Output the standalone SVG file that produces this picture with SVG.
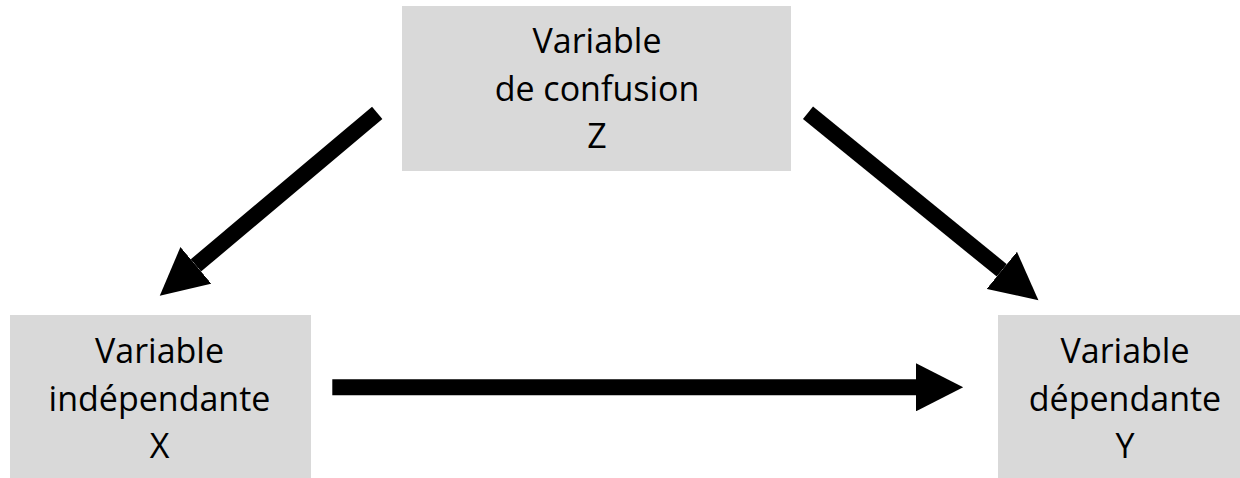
<svg xmlns="http://www.w3.org/2000/svg" width="1240" height="478" viewBox="0 0 1240 478">
  <style>
    .box { fill: #D9D9D9; stroke: none; }
    .label { font-family: "Open Sans", "Liberation Sans", sans-serif; font-size: 34px; fill: #000000; text-anchor: middle; }
    .conn { stroke: #000000; stroke-width: 16; stroke-linecap: butt; fill: none; marker-end: url(#head); }
  </style>
  <defs>
    <marker id="head" viewBox="0 0 3 3" refX="0" refY="1.5" markerWidth="3" markerHeight="3" markerUnits="strokeWidth" orient="auto">
      <path d="M0,0 L2.95,1.5 L0,3 Z" fill="#000000"/>
    </marker>
  </defs>
  <rect width="1240" height="478" fill="#FFFFFF"/>

  <g id="node-z">
    <rect class="box" x="402" y="6" width="389" height="165"/>
    <text class="label" x="597" y="53">Variable</text>
    <text class="label" x="597" y="101">de confusion</text>
    <text class="label" x="597" y="148">Z</text>
  </g>

  <g id="node-x">
    <rect class="box" x="10" y="315" width="301" height="163"/>
    <text class="label" x="159.5" y="363">Variable</text>
    <text class="label" x="159.5" y="410.5">indépendante</text>
    <text class="label" x="159.5" y="458">X</text>
  </g>

  <g id="node-y">
    <rect class="box" x="998" y="315" width="242" height="163"/>
    <text class="label" x="1125" y="363">Variable</text>
    <text class="label" x="1125" y="410.5">dépendante</text>
    <text class="label" x="1125" y="458">Y</text>
  </g>

  <g id="connectors">
    <line class="conn" x1="377.2" y1="112.8" x2="195.9" y2="265.4"/>
    <line class="conn" x1="808" y1="112.8" x2="1001.8" y2="270.4"/>
    <line class="conn" x1="332.3" y1="387.3" x2="916" y2="387.3"/>
  </g>
</svg>
